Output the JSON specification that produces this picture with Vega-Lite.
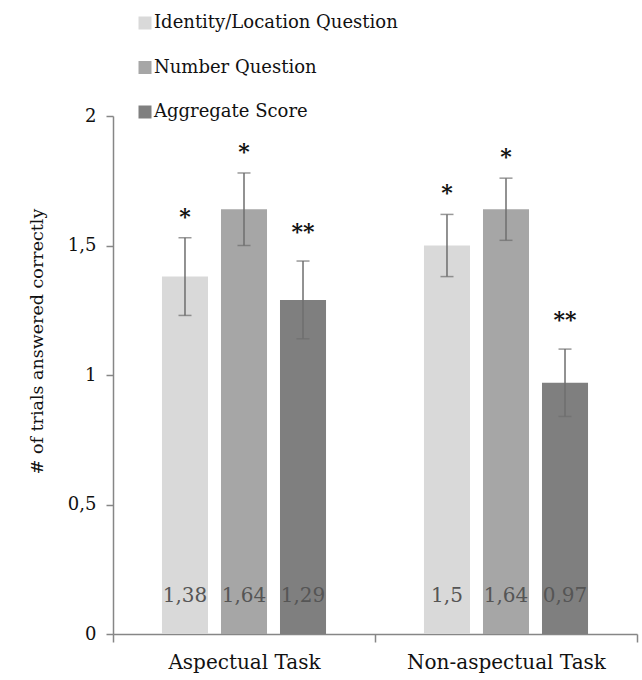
{
  "$schema": "https://vega.github.io/schema/vega-lite/v6.json",
  "width": 524,
  "height": 518,
  "autosize": {"type": "none"},
  "padding": {"left": 113, "top": 116, "right": 5, "bottom": 46},
  "background": "white",
  "config": {
    "view": {"stroke": null},
    "font": "DejaVu Serif",
    "text": {"font": "DejaVu Serif"},
    "axis": {"labelFont": "DejaVu Serif", "titleFont": "DejaVu Serif", "grid": false, "domainColor": "#868686", "tickColor": "#868686", "domainWidth": 1.5, "tickWidth": 1.5, "labelColor": "#111111", "titleColor": "#111111"},
    "legend": {"labelFont": "DejaVu Serif"}
  },
  "data": {
    "values": [
      {"task": "Aspectual Task", "measure": "Identity/Location Question", "mean": 1.38, "lo": 1.23, "hi": 1.53, "label": "1,38", "sig": "*"},
      {"task": "Aspectual Task", "measure": "Number Question", "mean": 1.64, "lo": 1.50, "hi": 1.78, "label": "1,64", "sig": "*"},
      {"task": "Aspectual Task", "measure": "Aggregate Score", "mean": 1.29, "lo": 1.14, "hi": 1.44, "label": "1,29", "sig": "**"},
      {"task": "Non-aspectual Task", "measure": "Identity/Location Question", "mean": 1.50, "lo": 1.38, "hi": 1.62, "label": "1,5", "sig": "*"},
      {"task": "Non-aspectual Task", "measure": "Number Question", "mean": 1.64, "lo": 1.52, "hi": 1.76, "label": "1,64", "sig": "*"},
      {"task": "Non-aspectual Task", "measure": "Aggregate Score", "mean": 0.97, "lo": 0.84, "hi": 1.10, "label": "0,97", "sig": "**"}
    ]
  },
  "encoding": {
    "x": {
      "field": "task", "type": "nominal", "sort": null,
      "scale": {"paddingInner": 0, "paddingOuter": 0},
      "axis": {"title": null, "labelAngle": 0, "labelFontSize": 20, "labelLimit": 400, "tickBand": "extent", "tickSize": 8, "labelPadding": 10}
    },
    "xOffset": {
      "field": "measure", "type": "nominal",
      "sort": ["Identity/Location Question", "Number Question", "Aggregate Score"],
      "scale": {"paddingInner": 0.22, "paddingOuter": 0.83}
    }
  },
  "layer": [
    {
      "mark": {"type": "bar"},
      "encoding": {
        "y": {
          "field": "mean", "type": "quantitative",
          "scale": {"domain": [0, 2], "nice": false},
          "axis": {
            "title": "# of trials answered correctly", "titleFontSize": 17.5, "titleFontWeight": "normal",
            "titleX": -76, "titleY": 225, "titleAngle": -90, "titleAlign": "center", "titleBaseline": "middle",
            "values": [0, 0.5, 1, 1.5, 2], "labelExpr": "replace(format(datum.value, '~g'), '.', ',')",
            "labelFontSize": 18, "tickSize": 7, "labelPadding": 10
          }
        },
        "color": {
          "field": "measure", "type": "nominal",
          "sort": ["Identity/Location Question", "Number Question", "Aggregate Score"],
          "scale": {"domain": ["Identity/Location Question", "Number Question", "Aggregate Score"], "range": ["#d9d9d9", "#a6a6a6", "#7f7f7f"]},
          "legend": {
            "title": null, "orient": "none", "legendX": 23, "legendY": -102,
            "symbolType": "square", "symbolSize": 169, "symbolStrokeWidth": 0, "symbolOpacity": 1,
            "labelFontSize": 18, "labelColor": "#111111", "labelOffset": 0, "rowPadding": 26.5, "labelLimit": 400
          }
        }
      }
    },
    {
      "mark": {"type": "rule", "color": "#6e6e6e", "strokeWidth": 1.5},
      "encoding": {"y": {"field": "lo", "type": "quantitative"}, "y2": {"field": "hi"}}
    },
    {
      "mark": {"type": "tick", "color": "#6e6e6e", "thickness": 1.5, "size": 13, "orient": "horizontal"},
      "encoding": {"y": {"field": "lo", "type": "quantitative"}}
    },
    {
      "mark": {"type": "tick", "color": "#6e6e6e", "thickness": 1.5, "size": 13, "orient": "horizontal"},
      "encoding": {"y": {"field": "hi", "type": "quantitative"}}
    },
    {
      "transform": [{"filter": "datum.sig === '*'"}],
      "mark": {"type": "text", "fontSize": 22, "fontWeight": "bold", "color": "#111111", "baseline": "alphabetic", "dy": -14},
      "encoding": {"y": {"field": "hi", "type": "quantitative"}, "text": {"field": "sig"}}
    },
    {
      "transform": [{"filter": "datum.sig === '**'"}],
      "mark": {"type": "text", "fontSize": 22, "fontWeight": "bold", "color": "#111111", "baseline": "alphabetic", "dy": -22},
      "encoding": {"y": {"field": "hi", "type": "quantitative"}, "text": {"field": "sig"}}
    },
    {
      "mark": {"type": "text", "fontSize": 20, "color": "#555555", "baseline": "middle"},
      "encoding": {"y": {"datum": 0.145}, "text": {"field": "label"}}
    }
  ]
}
